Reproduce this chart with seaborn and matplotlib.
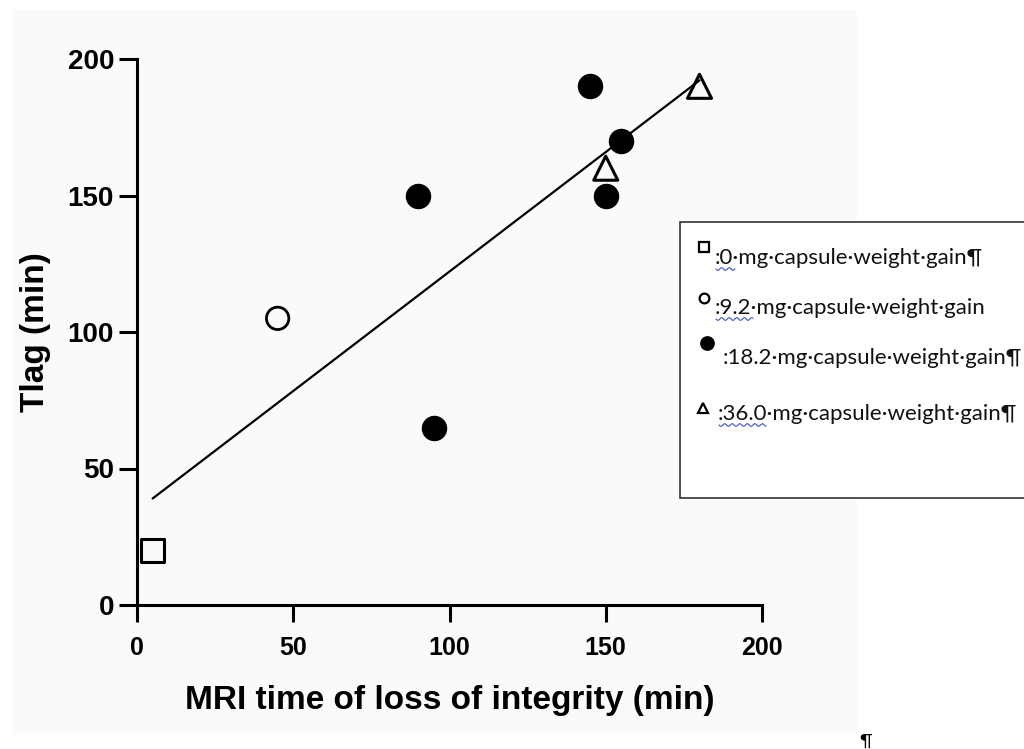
import numpy as np
import pandas as pd
import matplotlib
matplotlib.use("Agg")
import matplotlib.pyplot as plt
from matplotlib.patches import Rectangle
import seaborn as sns

# Capsule data: MRI time of loss of integrity vs Tlag, grouped by weight gain
groups = ["0", "9.2", "18.2", "18.2", "18.2", "18.2", "18.2", "36.0", "36.0"]
mri_time = [5, 45, 90, 95, 145, 150, 155, 150, 180]
tlag = [20, 105, 150, 65, 190, 150, 170, 160, 190]

legend_labels = [
    ":0\u00b7mg\u00b7capsule\u00b7weight\u00b7gain\u00b6",
    ":9.2\u00b7mg\u00b7capsule\u00b7weight\u00b7gain",
    ":18.2\u00b7mg\u00b7capsule\u00b7weight\u00b7gain\u00b6",
    ":36.0\u00b7mg\u00b7capsule\u00b7weight\u00b7gain\u00b6",
]

x_ticks = [0, 50, 100, 150, 200]
y_ticks = [0, 50, 100, 150, 200]

df = pd.DataFrame({"mri": mri_time, "tlag": tlag, "group": groups})

sns.set_theme(style="white")
plt.rcParams["font.family"] = ["Liberation Sans", "DejaVu Sans"]
plt.rcParams["text.color"] = "black"
plt.rcParams["axes.labelcolor"] = "black"
plt.rcParams["xtick.color"] = "black"
plt.rcParams["ytick.color"] = "black"

fig = plt.figure(figsize=(10.24, 7.49), dpi=100)
fig.patch.set_facecolor("white")
# faint grey panel behind the graph
fig.patches.append(Rectangle((12 / 1024, 1 - 735 / 749), (857 - 12) / 1024, (735 - 10) / 749,
                             transform=fig.transFigure, facecolor="#fafafa",
                             edgecolor="none", zorder=-10))

ax = fig.add_axes([137 / 1024, 1 - 605 / 749, 625 / 1024, 546 / 749])
ax.set_facecolor("none")

# linear fit line over the data range
sns.regplot(data=df, x="mri", y="tlag", scatter=False, ci=None, truncate=True,
            line_kws=dict(color="black", lw=1.6), ax=ax)

style_map = {
    "0": dict(marker="s", facecolor="none", edgecolor="black", s=260, linewidths=2.2),
    "9.2": dict(marker="o", facecolor="none", edgecolor="black", s=260, linewidths=2.0),
    "18.2": dict(marker="o", facecolor="black", edgecolor="black", s=300, linewidths=1.0),
    "36.0": dict(marker="^", facecolor="none", edgecolor="black", s=300, linewidths=2.2),
}
for g, kw in style_map.items():
    sub = df[df["group"] == g]
    sns.scatterplot(data=sub, x="mri", y="tlag", ax=ax, legend=False, zorder=5,
                    clip_on=False, **kw)

ax.set_xlim(0, 200)
ax.set_ylim(0, 200)
ax.set_xticks(x_ticks)
ax.set_yticks(y_ticks)
ax.set_xticklabels([str(t) for t in x_ticks], fontsize=18, fontweight="bold")
ax.set_yticklabels([str(t) for t in y_ticks], fontsize=20, fontweight="bold")
ax.tick_params(axis="both", direction="out", width=2.2, color="black",
               left=True, bottom=True)
ax.tick_params(axis="x", length=12, pad=10)
ax.tick_params(axis="y", length=13, pad=3.5)
for side in ["top", "right"]:
    ax.spines[side].set_visible(False)
for side in ["left", "bottom"]:
    ax.spines[side].set_linewidth(2.2)
    ax.spines[side].set_color("black")

ax.set_xlabel("MRI time of loss of integrity (min)", fontsize=24, fontweight="bold",
              labelpad=18)
ax.set_ylabel("Tlag (min)", fontsize=24, fontweight="bold", labelpad=12)

# legend box in figure pixel coordinates
W, H = 1024, 749
def fx(px):
    return np.asarray(px) / W
def fy(py):
    return 1 - np.asarray(py) / H

fig.patches.append(Rectangle((fx(680), fy(498)), fx(1030) - fx(680), fy(222) - fy(498),
                             transform=fig.transFigure, facecolor="white",
                             edgecolor="#333333", lw=1.2, zorder=20))

leg_font = ["Lato", "DejaVu Sans"]
marker_rows = [
    (704, 247, "s", "none", 7),
    (704, 298, "o", "none", 7),
    (707, 343, "o", "black", 9),
    (703, 408, "^", "none", 7),
]
text_rows = [(715, 264), (715, 314), (723, 364), (718, 420)]
for (mx, my, mk, fc, ms), (tx, ty), lab in zip(marker_rows, text_rows, legend_labels):
    fig.add_artist(plt.Line2D([fx(mx)], [fy(my)], marker=mk, markersize=ms,
                              markerfacecolor=fc, markeredgecolor="black",
                              markeredgewidth=1.6, linestyle="none",
                              transform=fig.transFigure, zorder=21))
    fig.text(fx(tx), fy(ty), lab, fontsize=16, family=leg_font, color="#111111",
             va="baseline", ha="left", zorder=21)

# wavy proofing underlines beneath the numbers
for x0, x1, yb in [(716, 735, 269), (716, 753, 319), (719, 766, 425)]:
    xs = np.linspace(x0, x1, int((x1 - x0) * 3))
    ys = yb + 1.3 * np.sin((xs - x0) / 1.2)
    fig.add_artist(plt.Line2D(fx(xs), fy(ys), color="#3a4fd0", lw=0.8,
                              transform=fig.transFigure, zorder=21))

fig.text(fx(866), fy(747), "\u00b6", fontsize=13, family=leg_font, color="black",
         ha="center", va="baseline")

fig.savefig("out.png", dpi=100)
